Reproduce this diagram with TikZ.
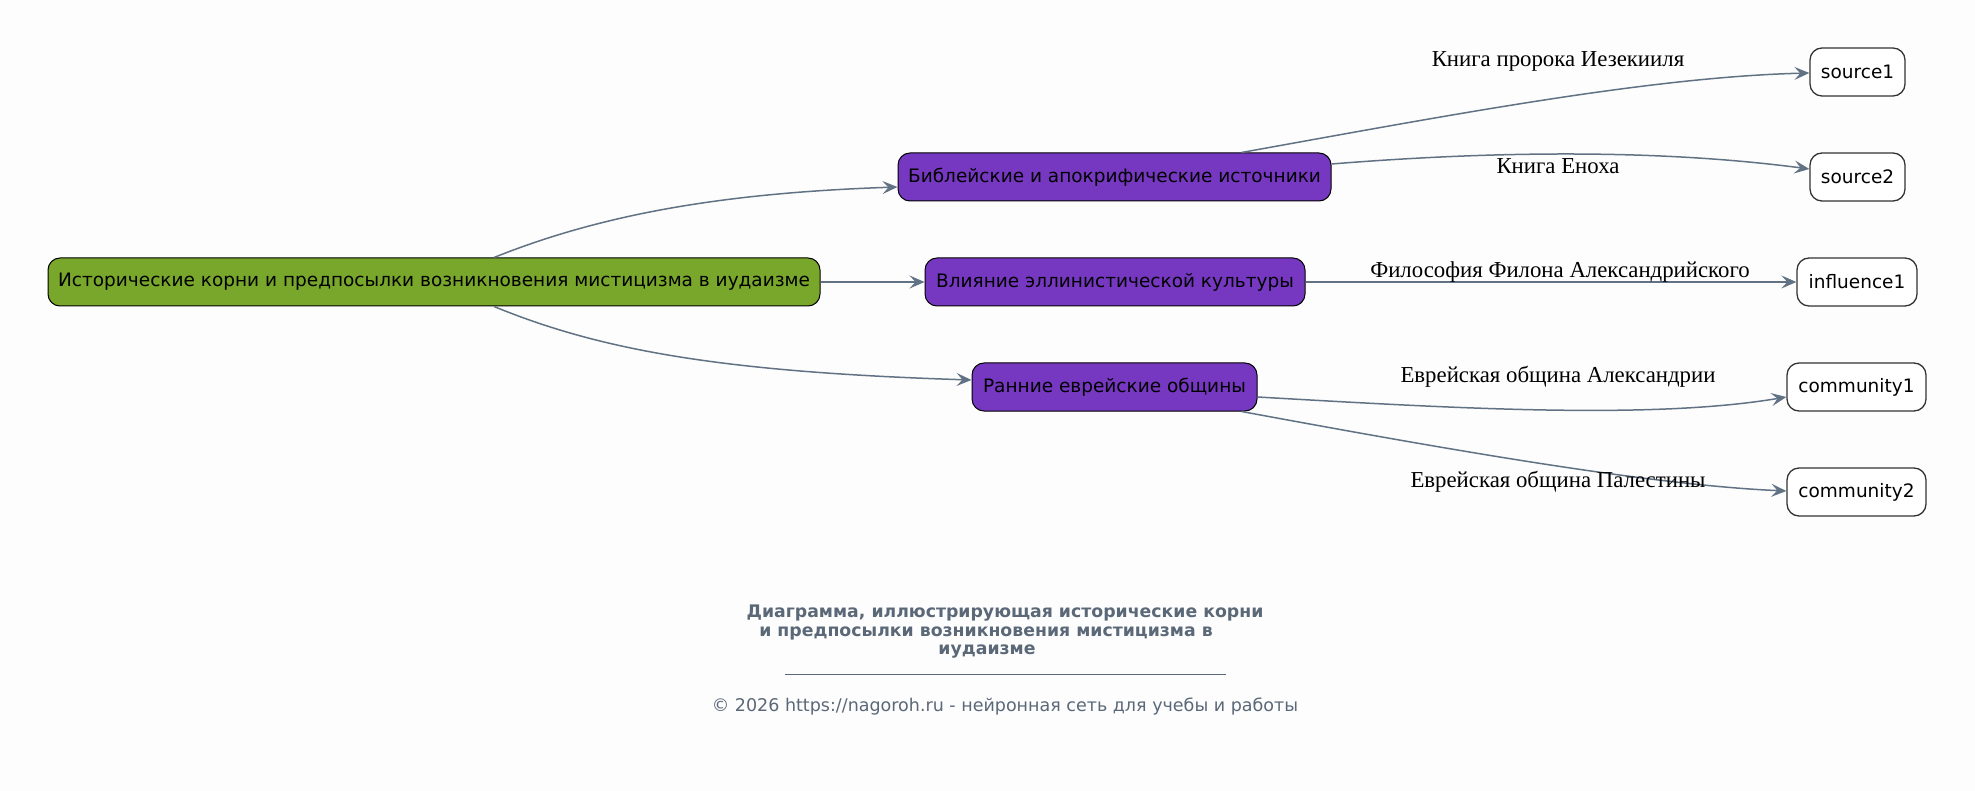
\documentclass[tikz,border=0pt]{standalone}
\usepackage{fontspec}
\setmainfont{DejaVu Sans}
\newfontfamily\djs{DejaVu Sans}
\newfontfamily\lser{Liberation Serif}
\usetikzlibrary{arrows.meta,calc}
\definecolor{bgc}{HTML}{FDFDFD}
\definecolor{rootgreen}{HTML}{78A72B}
\definecolor{purp}{HTML}{7638C1}
\definecolor{edgec}{HTML}{627285}
\definecolor{titlec}{HTML}{5A6878}
\tikzset{
  box/.style={draw=black, line width=1pt, rounded corners=12pt, minimum height=48pt, inner sep=0pt, font=\djs\fontsize{18.5}{22}\selectfont, text=black},
  rootbox/.style={box, fill=rootgreen},
  midbox/.style={box, fill=purp},
  leafbox/.style={box, fill=white, draw=black!80, line width=1.3pt},
  edge/.style={draw=edgec, line width=1.5pt, -{Stealth[length=15pt,width=13pt,inset=6pt]}},
  lbl/.style={font=\lser\fontsize{22.8}{26}\selectfont, text=black, inner sep=0pt},
}
\begin{document}
\begin{tikzpicture}[x=1pt,y=-1pt]
\path[fill=bgc] (0,0) rectangle (1975,791);
\useasboundingbox (0,0) rectangle (1975,791);
% nodes
\node[rootbox, minimum width=772pt] (root) at (434,282) {Исторические корни и предпосылки возникновения мистицизма в иудаизме};
\node[midbox, minimum width=433pt] (bib) at (1114.5,177) {Библейские и апокрифические источники};
\node[midbox, minimum width=380pt] (hel) at (1115,282) {Влияние эллинистической культуры};
\node[midbox, minimum width=285pt] (early) at (1114.5,387) {Ранние еврейские общины};
\node[leafbox, minimum width=95pt] (s1) at (1857.5,72) {source1};
\node[leafbox, minimum width=95pt] (s2) at (1857.5,177) {source2};
\node[leafbox, minimum width=120pt] (i1) at (1857,282) {influence1};
\node[leafbox, minimum width=139pt] (c1) at (1856.5,387) {community1};
\node[leafbox, minimum width=139pt] (c2) at (1856.5,492) {community2};
% edges
\draw[edge] ([xshift=60pt]root.north) .. controls (600,215) and (720,193) .. ([yshift=-10pt]bib.west);
\draw[edge] (root.east) -- (hel.west);
\draw[edge] ([xshift=60pt]root.south) .. controls (600,350) and (720,372) .. ([yshift=7pt]early.west);
\draw[edge] ([xshift=127pt]bib.north) .. controls (1450,115) and (1650,77) .. ([yshift=-1pt]s1.west);
\draw[edge] ([yshift=13pt]bib.east) .. controls (1480,152) and (1650,148) .. ([yshift=8pt]s2.west);
\draw[edge] (hel.east) -- (i1.west);
\draw[edge] ([yshift=-10pt]early.east) .. controls (1450,408) and (1650,420) .. ([yshift=-10pt]c1.west);
\draw[edge] ([xshift=127pt]early.south) .. controls (1450,450) and (1650,485) .. ([yshift=1pt]c2.west);
% labels
\node[lbl] (l1) at (1558,61) {Книга пророка Иезекииля};
\node[lbl] (l2) at (1558,166) {Книга Еноха};
\node[lbl] (l3) at (1560,272) {Философия Филона Александрийского};
\node[lbl] (l4) at (1558,377) {Еврейская община Александрии};
\node[lbl] (l5) at (1558,482) {Еврейская община Палестины};
% title
\node[font=\djs\bfseries\fontsize{17.3}{18.5}\selectfont, text=titlec, align=center] (title) at (1005,632) {Диаграмма, иллюстрирующая исторические корни\\и предпосылки возникновения мистицизма в\hphantom{\hspace{38pt}}\\иудаизме\hphantom{\hspace{36pt}}};
\coordinate (ra) at (785,674);
\coordinate (rb) at (1226,674);
\draw[titlec, line width=0.8pt] (ra) -- (rb);
\node[font=\djs\fontsize{17.5}{20}\selectfont, text=titlec] (copy) at (1005,707) {© 2026 https://nagoroh.ru - нейронная сеть для учебы и работы};
\end{tikzpicture}
\end{document}
